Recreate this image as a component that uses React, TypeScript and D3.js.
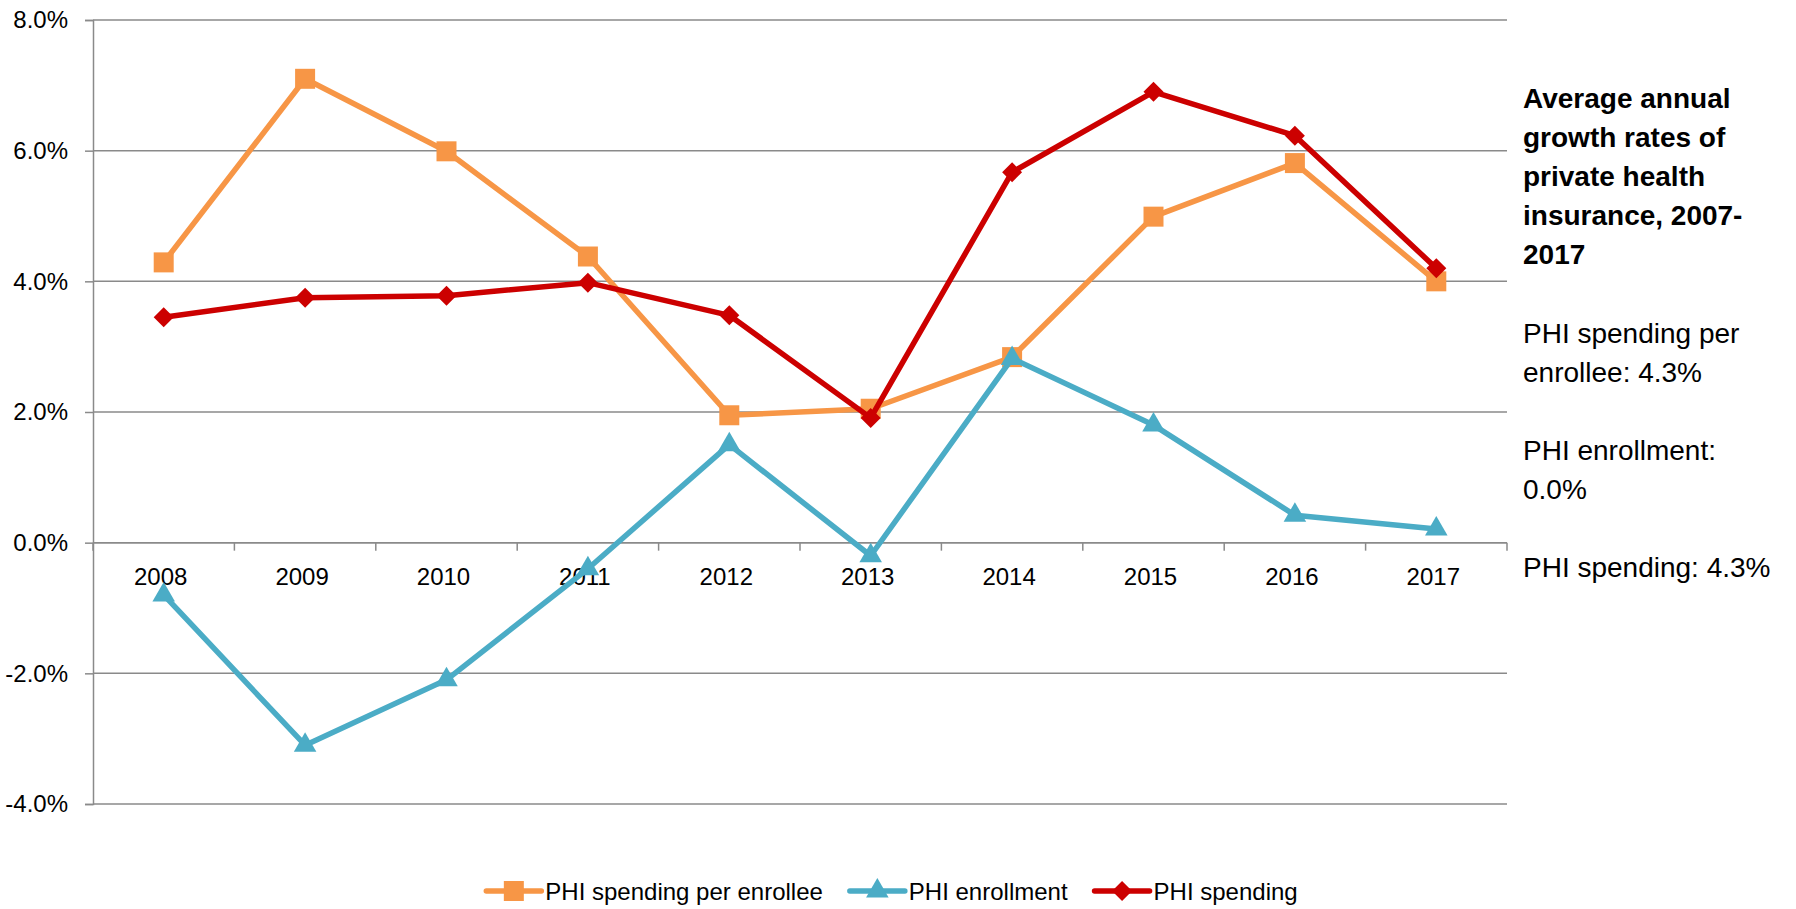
import { useEffect, useRef } from 'react';
import * as d3 from 'd3';

// Data (percent growth per year)
const years = ['2008', '2009', '2010', '2011', '2012', '2013', '2014', '2015', '2016', '2017'];
const spendingPerEnrollee = [4.29, 7.1, 5.99, 4.38, 1.95, 2.05, 2.84, 4.99, 5.81, 4.0];
const enrollment = [-0.8, -3.1, -2.1, -0.4, 1.5, -0.2, 2.82, 1.8, 0.42, 0.21];
const spending = [3.45, 3.75, 3.78, 3.98, 3.48, 1.91, 5.67, 6.9, 6.23, 4.2];
const yTicks = [-4, -2, 0, 2, 4, 6, 8];

const titleLines = ['Average annual', 'growth rates of', 'private health', 'insurance, 2007-', '2017'];
const noteLines = [
  ['PHI spending per', 'enrollee: 4.3%'],
  ['PHI enrollment:', '0.0%'],
  ['PHI spending: 4.3%'],
];

// diamond = square turned 45 degrees, like Excel's marker
const diamond = {
  draw(ctx: d3.Path, size: number) {
    const r = Math.sqrt(size / 2);
    ctx.moveTo(0, -r);
    ctx.lineTo(r, 0);
    ctx.lineTo(0, r);
    ctx.lineTo(-r, 0);
    ctx.closePath();
  },
};

const series = [
  { name: 'PHI spending per enrollee', values: spendingPerEnrollee, color: '#F79646', symbol: d3.symbolSquare, size: 400 },
  { name: 'PHI enrollment', values: enrollment, color: '#4BACC6', symbol: d3.symbolTriangle, size: 220 },
  { name: 'PHI spending', values: spending, color: '#CC0000', symbol: diamond, size: 200 },
];

const FONT = '"Liberation Sans", Arial, sans-serif';

export default function App() {
  const svgRef = useRef<SVGSVGElement | null>(null);

  const W = 1796;
  const H = 909;
  const margin = { top: 20, right: 289, bottom: 105, left: 93 };
  const width = W - margin.left - margin.right;
  const height = H - margin.top - margin.bottom;

  useEffect(() => {
    const svg = d3.select(svgRef.current);
    svg.selectAll('*').remove();

    const g = svg.append('g').attr('transform', `translate(${margin.left},${margin.top})`);

    const x = d3.scaleBand().domain(years).range([0, width]).padding(0);
    const y = d3.scaleLinear().domain([-4, 8]).range([height, 0]);

    // horizontal gridlines
    g.selectAll('.grid')
      .data(yTicks)
      .enter()
      .append('line')
      .attr('class', 'grid')
      .attr('x1', 0)
      .attr('x2', width)
      .attr('y1', (d) => y(d))
      .attr('y2', (d) => y(d))
      .attr('stroke', '#8a8a8a')
      .attr('stroke-width', 1.5);

    // y axis
    const yAxis = g.append('g').call(
      d3.axisLeft(y).tickValues(yTicks).tickSize(8).tickPadding(17).tickFormat((d) => `${(+d).toFixed(1)}%`)
    );
    yAxis.select('.domain').attr('stroke', '#8a8a8a').attr('stroke-width', 1.5);
    yAxis.selectAll('line').attr('stroke', '#8a8a8a').attr('stroke-width', 1.5);
    yAxis.selectAll('text').attr('font-family', FONT).attr('font-size', 24).attr('fill', '#000');

    // x axis at zero, ticks at category boundaries
    const xg = g.append('g').attr('transform', `translate(0,${y(0)})`);
    xg.append('line').attr('x1', 0).attr('x2', width).attr('stroke', '#8a8a8a').attr('stroke-width', 1.5);
    const bounds = years.map((yr) => x(yr)!).concat([width]);
    xg.selectAll('.xtick')
      .data(bounds)
      .enter()
      .append('line')
      .attr('x1', (d) => d)
      .attr('x2', (d) => d)
      .attr('y1', 0)
      .attr('y2', 8)
      .attr('stroke', '#8a8a8a')
      .attr('stroke-width', 1.5);
    xg.selectAll('.xlabel')
      .data(years)
      .enter()
      .append('text')
      .attr('x', (d) => x(d)! + x.bandwidth() / 2 - 3)
      .attr('y', 42)
      .attr('text-anchor', 'middle')
      .attr('font-family', FONT)
      .attr('font-size', 24)
      .attr('fill', '#000')
      .text((d) => d);

    // lines and markers
    series.forEach((s) => {
      const line = d3
        .line<number>()
        .x((_, i) => x(years[i])! + x.bandwidth() / 2)
        .y((d) => y(d));
      g.append('path')
        .datum(s.values)
        .attr('fill', 'none')
        .attr('stroke', s.color)
        .attr('stroke-width', 5.5)
        .attr('stroke-linejoin', 'round')
        .attr('d', line);
      g.selectAll(null)
        .data(s.values)
        .enter()
        .append('path')
        .attr('d', d3.symbol().type(s.symbol).size(s.size)())
        .attr('transform', (d, i) => `translate(${x(years[i])! + x.bandwidth() / 2},${y(d)})`)
        .attr('fill', s.color);
    });

    // side annotation
    const note = svg.append('g').attr('transform', 'translate(1523,0)');
    titleLines.forEach((t, i) => {
      note.append('text')
        .attr('x', 0)
        .attr('y', 108 + i * 39)
        .attr('font-family', FONT)
        .attr('font-size', 28)
        .attr('font-weight', 'bold')
        .attr('fill', '#000')
        .text(t);
    });
    let yy = 343;
    noteLines.forEach((block) => {
      block.forEach((t) => {
        note.append('text')
          .attr('x', 0)
          .attr('y', yy)
          .attr('font-family', FONT)
          .attr('font-size', 28)
          .attr('fill', '#000')
          .text(t);
        yy += 39;
      });
      yy += 39;
    });

    // legend, laid out by measured text widths and centred on the svg
    const legend = svg.append('g');
    let cx = 0;
    series.forEach((s) => {
      const item = legend.append('g').attr('transform', `translate(${cx},0)`);
      item.append('line')
        .attr('x1', 0)
        .attr('x2', 55)
        .attr('stroke', s.color)
        .attr('stroke-width', 5.5)
        .attr('stroke-linecap', 'round');
      item.append('path')
        .attr('d', d3.symbol().type(s.symbol).size(s.size)())
        .attr('transform', 'translate(27.5,0)')
        .attr('fill', s.color);
      const txt = item.append('text')
        .attr('x', 59)
        .attr('y', 8.5)
        .attr('font-family', FONT)
        .attr('font-size', 24)
        .attr('fill', '#000')
        .text(s.name);
      const tw = (txt.node() as SVGTextElement).getComputedTextLength();
      cx += 59 + tw + 27;
    });
    const total = cx - 27;
    legend.attr('transform', `translate(${W / 2 - total / 2 - 6},891)`);
  }, []);

  return (
    <div style={{ position: 'absolute', left: 0, top: 0 }}>
      <svg ref={svgRef} width={W} height={H} style={{ display: 'block', background: '#fff' }}></svg>
    </div>
  );
}
